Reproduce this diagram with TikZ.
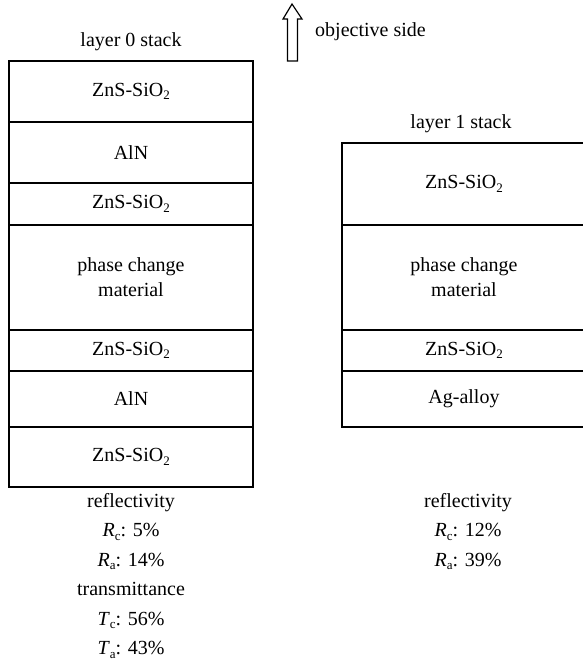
\documentclass[tikz,border=0pt]{standalone}
\usepackage{fontspec}
\setmainfont{Liberation Serif}
\newcommand\mysub[1]{\raisebox{-3.5pt}{\fontsize{13}{13}\selectfont #1}}
\begin{document}
\begin{tikzpicture}[x=1pt,y=-1pt,
  layer/.style={draw, line width=1.9pt, minimum width=244pt, inner sep=0pt, outer sep=0pt, anchor=north west, align=center, font=\fontsize{20}{25}\selectfont},
  lbl/.style={font=\fontsize{20}{25}\selectfont, inner sep=0pt},
  stat/.style={font=\fontsize{20}{29.5}\selectfont, inner sep=0pt, align=center, anchor=north}]
\useasboundingbox (0,0) rectangle (582,662);
% left stack
\node[layer, minimum height=61pt] (l1) at (9,61) {ZnS-SiO\mysub{2}};
\node[layer, minimum height=61pt] (l2) at (9,122) {AlN};
\node[layer, minimum height=42pt] (l3) at (9,183) {ZnS-SiO\mysub{2}};
\node[layer, minimum height=105pt] (l4) at (9,225) {phase change\\material};
\node[layer, minimum height=41pt] (l5) at (9,330) {ZnS-SiO\mysub{2}};
\node[layer, minimum height=56pt] (l6) at (9,371) {AlN};
\node[layer, minimum height=60pt] (l7) at (9,427) {ZnS-SiO\mysub{2}};
% right stack
\node[layer, minimum height=82pt] (r1) at (342,143) {ZnS-SiO\mysub{2}};
\node[layer, minimum height=105pt] (r2) at (342,225) {phase change\\material};
\node[layer, minimum height=41pt] (r3) at (342,330) {ZnS-SiO\mysub{2}};
\node[layer, minimum height=56pt] (r4) at (342,371) {Ag-alloy};
% titles
\node[lbl] (t0) at (131,42) {layer 0 stack};
\node[lbl] (t1) at (461,124) {layer 1 stack};
% objective arrow
\draw[line width=1.2pt] (292,4) -- (302,19) -- (297.5,19) -- (297.5,61) -- (287.5,61) -- (287.5,19) -- (283,19) -- cycle;
\node[lbl, anchor=west] (obj) at (315,32) {objective side};
% statistics
\node[stat] (s0) at (131,493) {reflectivity\\\textit{R}\mysub{c}: 5\%\\\textit{R}\mysub{a}: 14\%\\transmittance\\\textit{T}\mysub{c}: 56\%\\\textit{T}\mysub{a}: 43\%};
\node[stat] (s1) at (468,493) {reflectivity\\\textit{R}\mysub{c}: 12\%\\\textit{R}\mysub{a}: 39\%};
\end{tikzpicture}
\end{document}
